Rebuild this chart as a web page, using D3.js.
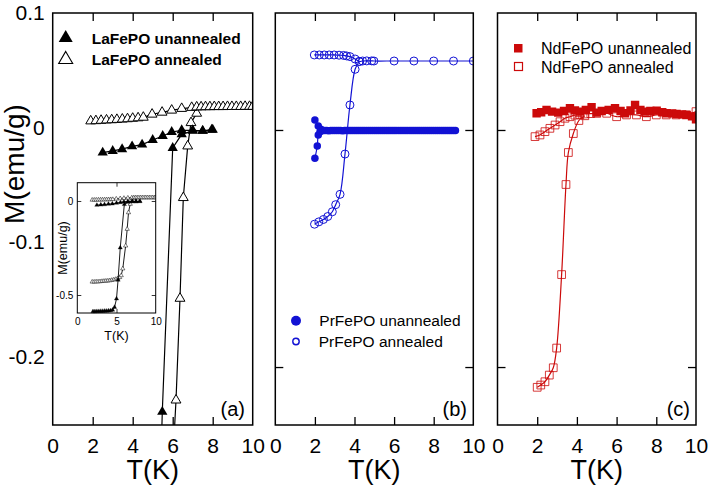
<!DOCTYPE html>
<html><head><meta charset="utf-8">
<script src="https://cdn.jsdelivr.net/npm/d3@7"></script>
<style>body{margin:0;background:#fff}svg{display:block;font-family:"Liberation Sans",Arial,sans-serif}</style>
</head><body><svg id="c" width="708" height="488"></svg>
<script>
// ---------- DATA ----------
const xTickLabels = [0,2,4,6,8,10];
const xMajor = [2,4,6,8];
const yTickLabelsA = [0.1,0,-0.1,-0.2];
const yTicksBC = [0,-0.2];
const insetYTicks = [0,-0.5];
const insetXLabels = [0,5,10];

// LaFePO
const laUnFC_T = [2.5,3.0,3.47,3.97,4.47,5.0,5.5,5.95,6.45,7.0,7.5,7.95];
const laUnFC_M = [-0.0220,-0.0205,-0.0190,-0.0165,-0.0150,-0.0110,-0.0075,-0.0040,-0.0025,-0.0025,-0.0030,-0.0020];
const laUnZFC_T = [2.0,2.25,2.5,2.75,3.0,3.25,3.5,3.75,4.0,4.25,4.5,4.75,5.0,5.2,5.48,6.0,6.45,7.0,7.5,8.0];
const laUnZFC_M = [-0.588,-0.588,-0.587,-0.587,-0.586,-0.586,-0.585,-0.585,-0.584,-0.583,-0.580,-0.565,-0.52,-0.42,-0.2485,-0.018,-0.006,-0.003,-0.003,-0.002];
const laAnFC_T = [1.9,2.16,2.42,2.69,2.95,3.21,3.48,3.74,4.0,4.27,4.53,4.97,5.47,5.95,6.45,6.95,7.2,7.42,7.64,7.86,8.08,8.3,8.52,8.74,8.96,9.18,9.4,9.62,9.84,10.0];
const laAnFC_M = [0.0056,0.0058,0.0061,0.0064,0.0066,0.0069,0.0072,0.0075,0.0079,0.0083,0.0088,0.0115,0.0132,0.0150,0.0165,0.0174,0.0178,0.0179,0.0180,0.0180,0.0181,0.0181,0.0181,0.0182,0.0182,0.0182,0.0182,0.0183,0.0183,0.0183];
const laAnZFC_T = [1.9,2.15,2.4,2.65,2.9,3.15,3.4,3.65,3.9,4.15,4.4,4.65,4.9,5.15,5.4,5.6,5.8,6.165,6.365,6.53,6.75,6.915,7.2];
const laAnZFC_M = [-0.430,-0.430,-0.429,-0.429,-0.428,-0.427,-0.426,-0.425,-0.424,-0.423,-0.421,-0.419,-0.416,-0.412,-0.406,-0.396,-0.36,-0.2383,-0.1494,-0.0614,-0.0163,0.0041,0.0123];

// PrFePO
const prAnFC_T = [1.97,2.22,2.47,2.72,2.97,3.22,3.45,3.6,3.77,4.03,4.24,4.41,4.62,4.87,4.98,6.0,7.0,8.0,9.0,10.0];
const prAnFC_M = [0.0633,0.0633,0.0633,0.0633,0.0633,0.0631,0.0629,0.0625,0.0619,0.0599,0.0578,0.0582,0.0583,0.0583,0.0582,0.0582,0.0582,0.0582,0.0582,0.0582];
const prAnZFC_T = [1.98,2.2,2.43,2.65,2.88,3.05,3.27,3.52,3.77,4.03,4.24];
const prAnZFC_M = [-0.0795,-0.0775,-0.0755,-0.073,-0.069,-0.063,-0.0543,-0.0203,0.0211,0.0512,0.0578];
const prUnFC_T = [2.0,2.17,2.3,2.4,2.5,2.6,2.7,2.8,2.9,3.0,3.1,3.2,3.3,3.4,3.5,3.6,3.7,3.8,3.9,4.0,4.1,4.2,4.3,4.4,4.5,4.6,4.7,4.8,4.9,5.0,5.1,5.2,5.3,5.4,5.5,5.6,5.7,5.8,5.9,6.0,6.1,6.2,6.3,6.4,6.5,6.6,6.7,6.8,6.9,7.0,7.1,7.2,7.3,7.4,7.5,7.6,7.7,7.8,7.9,8.0,8.1,8.2,8.3,8.4,8.5,8.6,8.7,8.8,8.9,9.0,9.1];
const prUnFC_M = [0.0084,0.0034,0.0006,-0.0004,-0.0005,-0.0005,-0.0006,-0.0005,-0.0005,-0.0004,-0.0005,-0.0005,-0.0005,-0.0006,-0.0005,-0.0005,-0.0004,-0.0005,-0.0005,-0.0005,-0.0005,-0.0004,-0.0005,-0.0005,-0.0005,-0.0005,-0.0004,-0.0005,-0.0005,-0.0005,-0.0005,-0.0005,-0.0004,-0.0005,-0.0005,-0.0005,-0.0005,-0.0004,-0.0005,-0.0005,-0.0005,-0.0005,-0.0005,-0.0004,-0.0005,-0.0005,-0.0005,-0.0005,-0.0004,-0.0005,-0.0005,-0.0005,-0.0005,-0.0004,-0.0005,-0.0005,-0.0005,-0.0005,-0.0005,-0.0004,-0.0005,-0.0005,-0.0005,-0.0005,-0.0004,-0.0005,-0.0005,-0.0005,-0.0005,-0.0004,-0.0005];
const prUnZFC_T = [2.0,2.12,2.17,2.26,2.4];
const prUnZFC_M = [-0.0239,-0.0135,-0.0042,-0.0014,-0.0005];

// NdFePO
const ndUn_T = [1.97,2.2,2.47,2.75,3.06,3.35,3.65,3.9,4.15,4.45,4.74,4.99,5.25,5.6,5.92,6.2,6.42,6.7,6.93,7.2,7.43,7.7,8.02,8.3,8.52,8.8,9.02,9.3,9.53,9.8,10.0];
const ndUn_M = [0.0141,0.0150,0.0169,0.0155,0.0146,0.0160,0.0183,0.0165,0.0155,0.0170,0.0192,0.0146,0.0160,0.0170,0.0183,0.0160,0.0141,0.0165,0.0211,0.0170,0.0155,0.0160,0.0163,0.0150,0.0141,0.0140,0.0135,0.0132,0.0127,0.0115,0.0090];
const ndAnFC_T = [1.89,2.14,2.39,2.64,2.9,3.15,3.4,3.65,3.9,4.15,4.4,4.7,5.0,5.5,6.0,6.5,7.0,7.5,8.0,8.5,9.0,9.5,10.0];
const ndAnFC_M = [-0.0056,-0.0042,-0.0014,0.0014,0.0042,0.0070,0.0099,0.0112,0.0125,0.0130,0.0135,0.0138,0.0140,0.0141,0.0112,0.0127,0.0127,0.0112,0.0127,0.0127,0.0127,0.0127,0.0155];
const ndAnZFC_T = [2.0,2.18,2.39,2.61,2.81,2.98,3.23,3.45,3.57,3.82,4.1,4.4];
const ndAnZFC_M = [-0.2171,-0.2152,-0.2124,-0.2068,-0.2006,-0.184,-0.122,-0.046,-0.019,-0.003,0.008,0.012];

// ---------- DRAW ----------
const svg = d3.select("#c");
const FONT = '"Liberation Sans",Arial,sans-serif';
const zip = (T,M) => T.map((t,i)=>({T:t,M:M[i]}));
const BLUE = "#1212d4", RED = "#cc0a0a";

const panels = [
  {id:"a", x0:52.7, x1:252.7, yd:[-0.26,0.1]},
  {id:"b", x0:275.3, x1:473.3, yd:[-0.2489,0.0987]},
  {id:"c", x0:497.5, x1:696.0, yd:[-0.2489,0.0987]}
];
const TOP = 13, BOT = 425;

panels.forEach(p => {
  p.x = d3.scaleLinear().domain([0,10]).range([p.x0,p.x1]);
  p.y = d3.scaleLinear().domain(p.yd).range([BOT,TOP]);
  svg.append("clipPath").attr("id","clip"+p.id).append("rect")
    .attr("x",p.x0).attr("y",TOP).attr("width",p.x1-p.x0).attr("height",BOT-TOP);
  p.g = svg.append("g");
  p.data = p.g.append("g").attr("clip-path",`url(#clip${p.id})`);
  p.g.append("g").attr("transform",`translate(0,${BOT})`)
    .call(d3.axisBottom(p.x).tickValues(xMajor).tickFormat("").tickSizeInner(-8).tickSizeOuter(0));
  p.g.append("g").attr("transform",`translate(0,${TOP})`)
    .call(d3.axisTop(p.x).tickValues(xMajor).tickFormat("").tickSizeInner(-8).tickSizeOuter(0));
  p.g.append("g").attr("transform",`translate(0,${BOT})`)
    .call(d3.axisBottom(p.x).tickValues(xTickLabels).tickFormat(d3.format("d")).tickSize(0).tickPadding(13.2))
    .call(g=>g.selectAll("text").attr("font-size",21).attr("font-family",FONT).attr("fill","#000"));
  if (p.id !== "a") {
    p.g.append("g").attr("transform",`translate(${p.x0},0)`)
      .call(d3.axisLeft(p.y).tickValues(yTicksBC).tickFormat("").tickSizeInner(-8).tickSizeOuter(0));
    p.g.append("g").attr("transform",`translate(${p.x1},0)`)
      .call(d3.axisRight(p.y).tickValues(yTicksBC).tickFormat("").tickSizeInner(-8).tickSizeOuter(0));
  }
  p.g.selectAll(".domain").remove();
  p.g.selectAll(".tick line").attr("stroke","#000").attr("stroke-width",1.3);
  p.g.append("text").attr("x",(p.x0+p.x1)/2).attr("y",479).attr("text-anchor","middle")
    .attr("font-size",27).attr("font-family",FONT).text("T(K)");
});

const A = panels[0], B = panels[1], C = panels[2];
A.g.append("g").attr("transform",`translate(${A.x0},0)`)
  .call(d3.axisLeft(A.y).tickValues(yTickLabelsA).tickFormat(d=>d===0?"0":d.toFixed(1)).tickSize(0).tickPadding(8))
  .call(g=>{g.select(".domain").remove();g.selectAll("text").attr("font-size",21).attr("font-family",FONT).attr("fill","#000");});
svg.append("text").attr("transform","translate(24,164) rotate(-90)").attr("text-anchor","middle")
  .attr("font-size",28).attr("font-family",FONT).text("M(emu/g)");

function series(p, arr, o) {
  const line = d3.line().x(d=>p.x(d.T)).y(d=>p.y(d.M)).curve(o.curve||d3.curveLinear);
  p.data.append("path").datum(arr).attr("d",line).attr("fill","none")
    .attr("stroke",o.color).attr("stroke-width",o.lw||1.2);
  const sym = d3.symbol().type(o.sym).size(o.size);
  p.data.selectAll(null).data(arr).enter().append("path")
    .attr("transform",d=>`translate(${p.x(d.T)},${p.y(d.M)})`).attr("d",sym())
    .attr("fill",o.fill).attr("stroke",o.stroke||"none").attr("stroke-width",o.sw||1)
    .attr("opacity",o.op||1);
}

// ---- panel a ----
series(A, zip(laAnZFC_T,laAnZFC_M), {color:"#000", sym:d3.symbolTriangle, size:42, fill:"#fff", stroke:"#000", sw:1});
series(A, zip(laAnFC_T,laAnFC_M), {color:"#000", sym:d3.symbolTriangle, size:42, fill:"#fff", stroke:"#000", sw:1});
series(A, zip(laUnZFC_T,laUnZFC_M), {color:"#000", sym:d3.symbolTriangle, size:46, fill:"#000"});
series(A, zip(laUnFC_T,laUnFC_M), {color:"#000", sym:d3.symbolTriangle, size:46, fill:"#000"});

// ---- panel b ----
series(B, zip(prAnZFC_T,prAnZFC_M), {color:BLUE, curve:d3.curveCatmullRom, sym:d3.symbolCircle, size:Math.PI*16, fill:"none", stroke:BLUE, sw:1});
series(B, zip(prAnFC_T,prAnFC_M), {color:BLUE, curve:d3.curveCatmullRom, sym:d3.symbolCircle, size:Math.PI*16, fill:"none", stroke:BLUE, sw:1});
series(B, zip(prUnZFC_T,prUnZFC_M), {color:BLUE, curve:d3.curveCatmullRom, sym:d3.symbolCircle, size:Math.PI*14, fill:BLUE});
series(B, zip(prUnFC_T,prUnFC_M), {color:BLUE, curve:d3.curveCatmullRom, sym:d3.symbolCircle, size:Math.PI*14, fill:BLUE});

// ---- panel c ----
series(C, zip(ndAnZFC_T,ndAnZFC_M), {color:RED, curve:d3.curveCatmullRom, sym:d3.symbolSquare, size:60, fill:"none", stroke:RED, sw:1, op:0.8});
series(C, zip(ndAnFC_T,ndAnFC_M), {color:RED, curve:d3.curveCatmullRom, sym:d3.symbolSquare, size:60, fill:"none", stroke:RED, sw:1, op:0.8});
series(C, zip(ndUn_T,ndUn_M), {color:RED, curve:d3.curveLinear, sym:d3.symbolSquare, size:70, fill:RED});

panels.forEach(p => {
  svg.append("rect").attr("x",p.x0).attr("y",TOP).attr("width",p.x1-p.x0).attr("height",BOT-TOP)
    .attr("fill","none").attr("stroke","#000").attr("stroke-width",1.5);
});

[[A,"(a)",245],[B,"(b)",467],[C,"(c)",690]].forEach(([p,t,xr])=>{
  svg.append("text").attr("x",xr).attr("y",416).attr("text-anchor","end").attr("font-size",20)
    .attr("font-family",FONT).text(t);
});

// ---- inset ----
const ins = {x0:77.3, x1:155.7, t:182.7, b:313};
ins.x = d3.scaleLinear().domain([0,10]).range([ins.x0,ins.x1]);
ins.y = d3.scaleLinear().domain([-0.5957,0.0973]).range([ins.b,ins.t]);
const ig = svg.append("g");
ig.append("rect").attr("x",ins.x0).attr("y",ins.t).attr("width",ins.x1-ins.x0).attr("height",ins.b-ins.t).attr("fill","#fff");
svg.append("clipPath").attr("id","clipi").append("rect").attr("x",ins.x0).attr("y",ins.t).attr("width",ins.x1-ins.x0).attr("height",ins.b-ins.t+4);
const idg = ig.append("g").attr("clip-path","url(#clipi)");
function iseries(arr, o) {
  const line = d3.line().x(d=>ins.x(d.T)).y(d=>ins.y(d.M));
  idg.append("path").datum(arr).attr("d",line).attr("fill","none").attr("stroke","#000").attr("stroke-width",0.9);
  idg.selectAll(null).data(arr).enter().append("path")
    .attr("transform",d=>`translate(${ins.x(d.T)},${ins.y(d.M)})`).attr("d",d3.symbol().type(d3.symbolTriangle).size(8)())
    .attr("fill",o.fill).attr("stroke","#000").attr("stroke-width",o.sw);
}
iseries(zip(laAnZFC_T,laAnZFC_M), {fill:"#fff", sw:0.5});
iseries(zip(laAnFC_T,laAnFC_M), {fill:"#fff", sw:0.5});
iseries(zip(laUnZFC_T,laUnZFC_M), {fill:"#000", sw:0.3});
iseries(zip(laUnFC_T,laUnFC_M), {fill:"#000", sw:0.3});
ig.append("g").attr("transform",`translate(${ins.x0},0)`)
  .call(d3.axisLeft(ins.y).tickValues(insetYTicks).tickFormat(d=>d===0?"0":d.toFixed(1)).tickSizeInner(-4).tickSizeOuter(0).tickPadding(4))
  .call(g=>{g.select(".domain").remove();g.selectAll("text").attr("font-size",10).attr("font-family",FONT).attr("fill","#000");});
ig.append("g").attr("transform",`translate(${ins.x1},0)`)
  .call(d3.axisRight(ins.y).tickValues(insetYTicks).tickFormat("").tickSizeInner(-4).tickSizeOuter(0))
  .call(g=>g.select(".domain").remove());
ig.append("g").attr("transform",`translate(0,${ins.t})`)
  .call(d3.axisTop(ins.x).tickValues([5]).tickFormat("").tickSizeInner(-4).tickSizeOuter(0))
  .call(g=>g.select(".domain").remove());
ig.append("g").attr("transform",`translate(0,${ins.b})`)
  .call(d3.axisBottom(ins.x).tickValues([5]).tickFormat("").tickSizeInner(-4).tickSizeOuter(0))
  .call(g=>g.select(".domain").remove());
ig.append("g").attr("transform",`translate(0,${ins.b})`)
  .call(d3.axisBottom(ins.x).tickValues(insetXLabels).tickFormat(d3.format("d")).tickSize(0).tickPadding(5))
  .call(g=>{g.select(".domain").remove();g.selectAll("text").attr("font-size",10).attr("font-family",FONT).attr("fill","#000");});
ig.selectAll(".tick line").attr("stroke","#000").attr("stroke-width",0.8);
ig.append("rect").attr("x",ins.x0).attr("y",ins.t).attr("width",ins.x1-ins.x0).attr("height",ins.b-ins.t)
  .attr("fill","none").attr("stroke","#000").attr("stroke-width",1);
ig.append("text").attr("x",(ins.x0+ins.x1)/2).attr("y",340).attr("text-anchor","middle").attr("font-size",12.5).attr("font-family",FONT).text("T(K)");
ig.append("text").attr("transform","translate(67,248) rotate(-90)").attr("text-anchor","middle").attr("font-size",12.5).attr("font-family",FONT).text("M(emu/g)");

// ---- legends ----
const leg = svg.append("g").attr("font-family",FONT);
leg.append("path").attr("transform","translate(65.7,38)").attr("d",d3.symbol().type(d3.symbolTriangle).size(85)()).attr("fill","#000");
leg.append("path").attr("transform","translate(65.7,59.5)").attr("d",d3.symbol().type(d3.symbolTriangle).size(85)()).attr("fill","#fff").attr("stroke","#000").attr("stroke-width",1.1);
leg.append("text").attr("x",91.7).attr("y",43.5).attr("font-size",15.5).attr("font-weight","bold").text("LaFePO unannealed");
leg.append("text").attr("x",91.7).attr("y",64.5).attr("font-size",15.5).attr("font-weight","bold").text("LaFePO annealed");

leg.append("circle").attr("cx",296).attr("cy",320.7).attr("r",5).attr("fill",BLUE);
leg.append("circle").attr("cx",296).attr("cy",341.5).attr("r",3.2).attr("fill","none").attr("stroke",BLUE).attr("stroke-width",1.4);
leg.append("text").attr("x",319.3).attr("y",326).attr("font-size",15.5).text("PrFePO unannealed");
leg.append("text").attr("x",318.7).attr("y",346.5).attr("font-size",15.5).text("PrFePO annealed");

leg.append("rect").attr("x",514).attr("y",44).attr("width",8.5).attr("height",8.5).attr("fill",RED);
leg.append("rect").attr("x",514.5).attr("y",62.5).attr("width",8).attr("height",8).attr("fill","none").attr("stroke",RED).attr("stroke-width",1.2);
leg.append("text").attr("x",541).attr("y",54).attr("font-size",16).text("NdFePO unannealed");
leg.append("text").attr("x",541).attr("y",72.5).attr("font-size",16).text("NdFePO annealed");
</script></body></html>
